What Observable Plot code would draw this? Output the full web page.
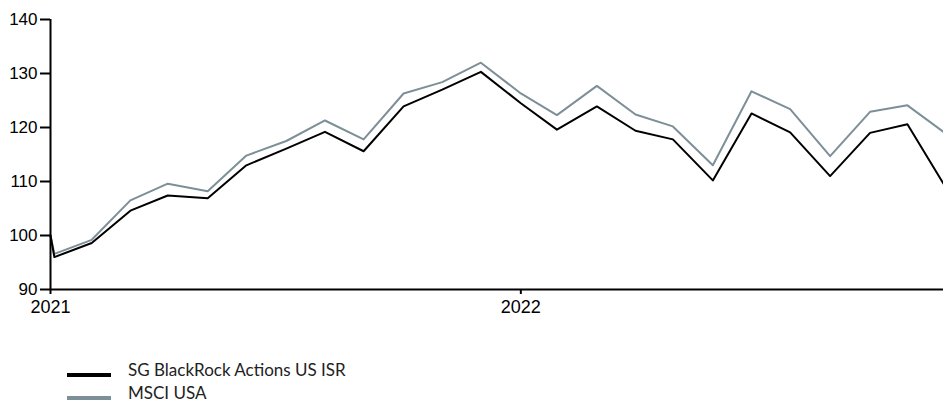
<!DOCTYPE html>
<html>
<head>
<meta charset="utf-8">
<script src="https://cdn.jsdelivr.net/npm/d3@7"></script>
<script src="https://cdn.jsdelivr.net/npm/@observablehq/plot@0.6"></script>
<style>
  html, body { margin: 0; padding: 0; background: #fff; }
  #wrap { position: relative; width: 943px; height: 400px; overflow: hidden; }
  #chart svg, #chart svg text { font-family: "Liberation Sans", Arial, sans-serif !important; }
  #legend { position: absolute; left: 67px; top: 358px; font-family: Lato, "Noto Sans", sans-serif; font-size: 17px; color: #222; }
  .item { display: flex; align-items: center; height: 23px; line-height: 23px; }
  .sw { width: 44px; height: 4px; margin-right: 17px; margin-top: 10px; }
</style>
</head>
<body>
<div id="wrap"><div id="chart"></div><div id="legend"></div></div>
<script>
const seriesNames = ["SG BlackRock Actions US ISR", "MSCI USA"];
const seriesColors = ["#000000", "#7d8f97"];
const dates = ["2021-01-01","2021-01-04","2021-02-02","2021-03-04","2021-04-02","2021-05-03","2021-06-02","2021-07-03","2021-08-02","2021-09-01","2021-10-02","2021-11-01","2021-12-01","2022-01-01","2022-01-29","2022-03-01","2022-03-31","2022-04-29","2022-05-30","2022-06-29","2022-07-29","2022-08-29","2022-09-29","2022-10-28","2022-11-25"];
const fundValues = [100.0, 96.0, 98.6, 104.6, 107.4, 106.9, 113.0, 116.1, 119.2, 115.6, 123.9, 127.0, 130.3, 124.5, 119.6, 123.9, 119.4, 117.8, 110.2, 122.6, 119.1, 111.0, 119.0, 120.6, 109.6];
const indexValues = [100.0, 96.6, 99.2, 106.5, 109.6, 108.2, 114.8, 117.5, 121.3, 117.8, 126.3, 128.4, 132.0, 126.3, 122.3, 127.7, 122.4, 120.2, 113.0, 126.7, 123.4, 114.7, 122.9, 124.1, 119.2];
const yTicks = [90, 100, 110, 120, 130, 140];
const xTicks = ["2021-01-01", "2022-01-01"];
const xDomain = ["2021-01-01", "2022-11-25"];

const parse = d3.utcParse("%Y-%m-%d");
const rows = [];
[fundValues, indexValues].forEach((vals, k) => {
  vals.forEach((v, i) => rows.push({date: parse(dates[i]), value: v, series: seriesNames[k]}));
});

const chart = Plot.plot({
  width: 943,
  height: 330,
  marginLeft: 50,
  marginRight: 0,
  marginTop: 19,
  marginBottom: 41,
  style: { background: "#fff", overflow: "visible" },
  x: { type: "utc", domain: xDomain.map(parse) },
  y: { domain: [90, 140] },
  color: { domain: seriesNames, range: seriesColors },
  marks: [
    Plot.lineY(rows.filter(d => d.series === seriesNames[1]), {x: "date", y: "value", stroke: "series", strokeWidth: 2}),
    Plot.lineY(rows.filter(d => d.series === seriesNames[0]), {x: "date", y: "value", stroke: "series", strokeWidth: 2}),
    Plot.axisY({ticks: yTicks, tickSize: 10, tickPadding: 3, fontSize: 17, stroke: "#000", strokeWidth: 2, strokeOpacity: 1, color: "#000", label: null}),
    Plot.axisX({ticks: xTicks.map(parse), tickFormat: d3.utcFormat("%Y"), tickSize: 5, tickPadding: 6, fontSize: 18, stroke: "#000", strokeWidth: 2, strokeOpacity: 1, color: "#000", label: null}),
    Plot.ruleX([xDomain[0]].map(parse), {stroke: "#000", strokeWidth: 2}),
    Plot.ruleY([90], {stroke: "#000", strokeWidth: 2})
  ]
});
document.getElementById("chart").appendChild(chart);

const legend = document.getElementById("legend");
seriesNames.forEach((name, i) => {
  const item = document.createElement("div");
  item.className = "item";
  const sw = document.createElement("span");
  sw.className = "sw";
  sw.style.background = seriesColors[i];
  const t = document.createElement("span");
  t.textContent = name;
  item.appendChild(sw);
  item.appendChild(t);
  legend.appendChild(item);
});
</script>
</body>
</html>
